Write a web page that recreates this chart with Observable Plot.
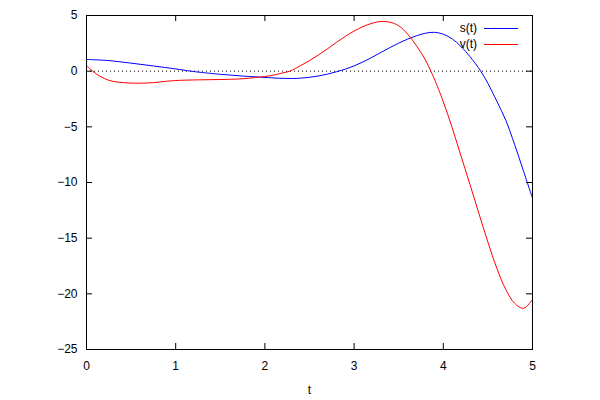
<!DOCTYPE html>
<html>
<head>
<meta charset="utf-8">
<script src="https://cdn.jsdelivr.net/npm/d3@7"></script>
<script src="https://cdn.jsdelivr.net/npm/@observablehq/plot@0.6"></script>
<style>
  body { margin: 0; background: #fff; }
  #fig { position: relative; width: 600px; height: 400px; font-family: "Liberation Sans", Arial, sans-serif; }
  .lab { position: absolute; width: 60px; left: 417px; text-align: right; font-size: 12px; line-height: 14px; color: #000; }
  .sw { position: absolute; left: 484px; width: 34px; height: 1px; }
</style>
</head>
<body>
<div id="fig"></div>
<script>
// s(t) samples
const sT = [0, 0.25, 0.5, 0.75, 1.0, 1.17, 1.25, 1.5, 1.75, 2.0, 2.15, 2.3, 2.4, 2.5, 2.6, 2.7, 2.8, 2.9, 3.0, 3.1, 3.2, 3.3, 3.4, 3.5, 3.6, 3.7, 3.8, 3.9, 4.0, 4.1, 4.2, 4.3, 4.42, 4.5, 4.6, 4.7, 4.8, 4.9, 5.0];
const sV = [1.05, 0.95, 0.72, 0.47, 0.2, 0.0, -0.08, -0.28, -0.44, -0.56, -0.63, -0.66, -0.63, -0.55, -0.43, -0.27, -0.06, 0.18, 0.47, 0.83, 1.24, 1.68, 2.11, 2.52, 2.88, 3.18, 3.41, 3.49, 3.32, 2.9, 2.2, 1.3, 0.0, -1.1, -2.7, -4.4, -6.6, -9.0, -11.4];
// v(t) samples
const vT = [0, 0.07, 0.15, 0.25, 0.35, 0.5, 0.6, 0.75, 0.88, 1.0, 1.25, 1.5, 1.75, 1.93, 2.0, 2.1, 2.2, 2.28, 2.4, 2.5, 2.6, 2.7, 2.8, 2.9, 3.0, 3.1, 3.2, 3.3, 3.4, 3.5, 3.6, 3.7, 3.8, 3.86, 3.9, 4.0, 4.1, 4.2, 4.3, 4.4, 4.5, 4.6, 4.7, 4.8, 4.9, 5.0];
const vV = [0.5, 0.0, -0.45, -0.82, -0.98, -1.07, -1.08, -1.03, -0.92, -0.84, -0.78, -0.75, -0.68, -0.54, -0.48, -0.35, -0.15, 0.0, 0.5, 0.95, 1.45, 2.0, 2.57, 3.12, 3.6, 4.0, 4.3, 4.47, 4.4, 4.08, 3.33, 2.28, 1.0, 0.0, -0.7, -2.75, -5.1, -7.65, -10.2, -12.8, -15.35, -17.7, -19.6, -20.85, -21.3, -20.5];
const xTicks = [0, 1, 2, 3, 4, 5];
const yTicks = [-25, -20, -15, -10, -5, 0, 5];
const seriesNames = ["s(t)", "v(t)"];
const seriesColors = ["#0000ff", "#ff0000"];

const sData = sT.map((t, i) => ({t, y: sV[i]}));
const vData = vT.map((t, i) => ({t, y: vV[i]}));

const W = 600, H = 400, mL = 86, mR = 68, mT = 15, mB = 51;
const frameW = W - mL - mR, frameH = H - mT - mB;

const chart = Plot.plot({
  width: W, height: H,
  marginLeft: mL, marginRight: mR, marginTop: mT, marginBottom: mB,
  style: {fontFamily: '"Liberation Sans", Arial, sans-serif', fontSize: "12px", color: "#000", background: "#fff"},
  x: {domain: [0, 5]},
  y: {domain: [-25, 5]},
  marks: [
    Plot.ruleY([0], {stroke: "#000", strokeDasharray: "1,3", strokeWidth: 1}),
    Plot.line(sData, {x: "t", y: "y", stroke: seriesColors[0], strokeWidth: 1, curve: "catmull-rom"}),
    Plot.line(vData, {x: "t", y: "y", stroke: seriesColors[1], strokeWidth: 1, curve: "catmull-rom"}),
    // inward ticks (bottom/top/left/right)
    Plot.tickX(xTicks, {x: d => d, stroke: "#000", insetTop: frameH - 6}),
    Plot.tickX(xTicks, {x: d => d, stroke: "#000", insetBottom: frameH - 6}),
    Plot.tickY(yTicks, {y: d => d, stroke: "#000", insetRight: frameW - 6}),
    Plot.tickY(yTicks, {y: d => d, stroke: "#000", insetLeft: frameW - 6}),
    Plot.axisX({ticks: xTicks, tickFormat: d3.format("d"), tickSize: 0, tickPadding: 12, label: "t", labelAnchor: "center", labelOffset: 44, labelArrow: "none", fontSize: 12}),
    Plot.axisY({ticks: yTicks, tickFormat: d3.format("d"), tickSize: 0, tickPadding: 9, label: null, fontSize: 12}),
    Plot.frame({stroke: "#000", strokeWidth: 1})
  ]
});
const fig = document.getElementById("fig");
fig.append(chart);

seriesNames.forEach((n, i) => {
  const lineY = 28 + 16 * i;
  const lab = document.createElement("div");
  lab.className = "lab"; lab.textContent = n;
  lab.style.top = (lineY - 7) + "px";
  const sw = document.createElement("div");
  sw.className = "sw"; sw.style.background = seriesColors[i];
  sw.style.top = lineY + "px";
  fig.append(lab, sw);
});
</script>
</body>
</html>
